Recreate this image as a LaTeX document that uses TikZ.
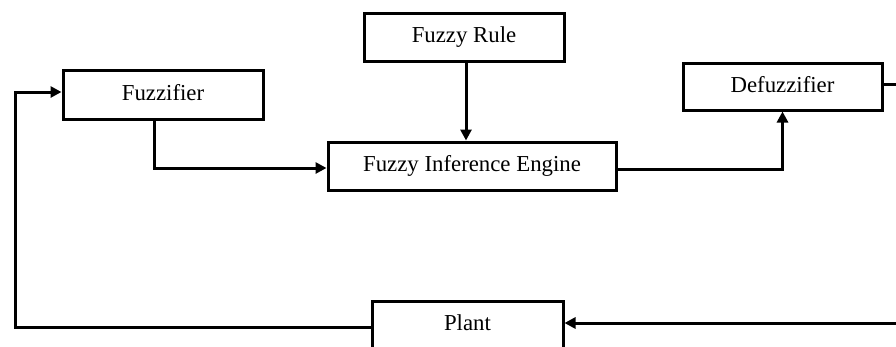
\documentclass[tikz,border=0pt]{standalone}
\usepackage{fontspec}
\setmainfont{Liberation Serif}
\usetikzlibrary{arrows.meta}
\begin{document}
\begin{tikzpicture}[x=1pt,y=-1pt,
  blk/.style={draw,line width=3pt,inner sep=0pt,text height=16pt,text depth=5pt,
    font=\fontsize{22.8}{27}\selectfont},
  conn/.style={line width=3pt,-{Triangle[length=11pt,width=11pt]}},
  plain/.style={line width=3pt}]
\useasboundingbox (0,0) rectangle (896,346);
\clip (0,0) rectangle (896,346);
\node[blk,minimum width=200pt,minimum height=49pt] (fz) at (163,94.5) {Fuzzifier};
\node[blk,minimum width=200pt,minimum height=48pt] (rule) at (464,37) {Fuzzy Rule};
\node[blk,minimum width=288pt,minimum height=48pt] (eng) at (472,166) {Fuzzy Inference Engine};
\node[blk,minimum width=199pt,minimum height=47pt] (dfz) at (782.5,86.5) {Defuzzifier};
\node[blk,minimum width=191pt,minimum height=70pt,text depth=28pt,anchor=north] (pl) at (467.5,300) {Plant};
\coordinate (r1) at (930,84);
\coordinate (r2) at (930,323);
\draw[conn] (fz.south -| 154,0) |- (eng.west |- 0,168);
\draw[conn] (rule.south -| 466,0) -- (eng.north -| 466,0);
\draw[conn] (eng.east |- 0,169) -| (dfz.south);
\draw[plain] (dfz.east |- 0,84) -- (r1) -- (r2);
\draw[conn] (r2) -- (pl.east |- 0,323);
\draw[conn] (pl.west |- 0,327) -| (15,92) -- (fz.west |- 0,92);
\end{tikzpicture}
\end{document}
